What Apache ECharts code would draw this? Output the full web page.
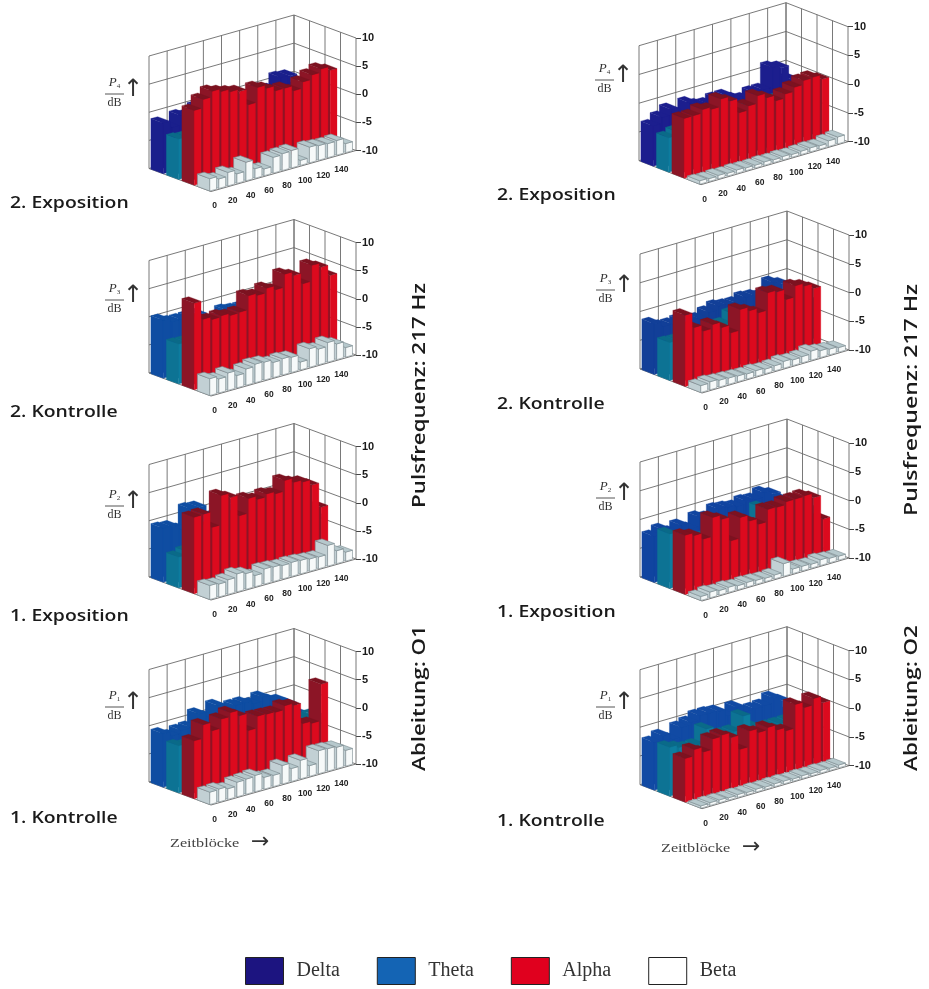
<!DOCTYPE html>
<html><head><meta charset="utf-8">
<style>html,body{margin:0;padding:0;background:#fff}#main{width:929px;height:989px;filter:blur(0.55px)}</style>
<script src="https://cdn.jsdelivr.net/npm/echarts@6/dist/echarts.min.js"></script>
</head><body><div id="main"></div>
<script>
const timeBlocks = [0,10,20,30,40,50,60,70,80,90,100,110,120,130,140,150];
const timeTickLabels = [0,20,40,60,80,100,120,140];
const gridTimes = [0,20,40,60,80,100,120,140,160];
const gridLevels = [-10,-5,0,5,10];
const depthLines = [0,0.25,0.5,0.75,1];
const seriesNames = ['Delta','Theta','Alpha','Beta'];

// O1, 2. Exposition
const deltaO1P4 = [-1,-2.2,-0.6,-1,0,0.5,0.5,0.5,0,-2,-2.5,0,-0.5,1.2,1,-1.5];
const thetaO1P4 = [-2.8,-3,-3,-3,-2.5,-2.5,-2.5,-3,-3,-3,-3,-2.5,-2.5,-2.5,-2.5,-3];
const alphaO1P4 = [3.3,4.8,5.8,5.3,4.8,4.4,1.6,4.2,3.6,2.7,2.7,1.8,2.9,3.7,4.3,3.6];
const betaO1P4  = [-7.8,-8.3,-7.6,-8.3,-6.7,-8.3,-8.8,-7.2,-7,-6.9,-9.1,-7.2,-7.4,-7.5,-7.4,-8.4];
// O1, 2. Kontrolle
const deltaO1P3 = [0.3,-0.4,-0.5,-0.5,-0.5,-2,-2.5,-1.1,-1.4,-1.5,-1,-1,-1.5,-1,-2,-1.5];
const thetaO1P3 = [-2.9,-3,-3,-3,-3,-3,-3,-3,-3,-3,-3,-3,-3,-3,-3,-3];
const alphaO1P3 = [5.4,2.1,1.6,1.8,1.4,1.5,4,3.6,4.4,3.7,6,5.3,3.4,6.2,5.4,3.5];
const betaO1P3  = [-7,-7.5,-6.9,-7.8,-7.1,-6.7,-6.8,-7.3,-7.1,-7.3,-8.6,-6.7,-7.2,-6.5,-7.2,-8.3];
// O1, 1. Exposition
const deltaO1P2 = [-0.4,-0.6,-1.5,1.7,1.5,-3,-1,-1,0,-1.5,-1,-1,-1,-1,-1,-1];
const thetaO1P2 = [-4.5,-4,-4,-4,-4,-4,-4,-4,-4,-4,-4,-4,-4,-4,-4,-4];
const alphaO1P2 = [3.6,3.7,0.9,6.1,5.3,1.6,4.2,3.6,4.1,3.7,5.6,4.8,4.4,3.4,-1,null];
const betaO1P2  = [-7.5,-7.7,-7.4,-6.8,-7.2,-8,-7.3,-7.4,-7.6,-7.5,-7.6,-7.8,-7.9,-6.3,-7.7,-8.4];
// O1, 1. Kontrolle
const deltaO1P1 = [-0.5,-1.3,-0.8,-0.7,1.2,0.2,1.8,0.5,0.9,0.9,0.3,1,0,-0.5,-1.6,-3.6];
const thetaO1P1 = [-1.6,-2,-2,-2,-2,-2,-2,-2,-0.8,-2.5,-3,-3,-3,-3,-3,-3];
const alphaO1P1 = [0.3,2.7,1.2,2.8,3.5,2.5,-0.6,1.5,1.4,1.3,2,1.6,-2.1,-2.5,4,null];
const betaO1P1  = [-7.8,-7.7,-8.1,-7.4,-7.3,-7.1,-7.9,-8,-6.7,-7.7,-6.7,-8.1,-5.9,-6,-6.2,-7.2];
// O2, 2. Exposition
const deltaO2P4 = [-3,-2,-1.1,-2.3,-0.9,-1.7,-2,-1.5,-1.5,-2.5,-3,-2.3,-2.3,1.1,0.6,-1.9];
const thetaO2P4 = [-4,-3.5,-3,-3,-3,-3,-3,-3,-3,-3,-3,-3,-3,-3,-3,-3];
const alphaO2P4 = [0.4,0.4,1,0.6,1.9,1.1,-1.4,-0.7,0.6,-0.2,-1.2,-0.5,0.2,0.9,1,0.2];
const betaO2P4  = [-9.4,-9.5,-9.4,-9.5,-9.4,-9.5,-9.5,-9.4,-9.5,-9.4,-9.5,-9.4,-9.3,-9.4,-9,-8.8];
// O2, 2. Kontrolle
const deltaO2P3 = [-1.2,-2.1,-2.2,-2,-2.4,-2.7,-2,-1.4,-1.7,-1.8,-1.3,-1.5,-1.9,-0.1,-0.8,-3.3];
const thetaO2P3 = [-3.4,-3.5,-3.5,-3.5,-3.5,-3,-3,-1.7,-3,-3,-3,-3,-3,-3,-3,-3];
const alphaO2P3 = [2.4,-0.2,-1.3,-0.6,-1.6,-3,0.6,-0.1,-0.9,2.1,1.8,0,1.9,1.4,0.5,null];
const betaO2P3  = [-8.8,-8.6,-8.8,-8.9,-9,-9.1,-9,-9.2,-9.1,-8.8,-9,-8.9,-8.4,-8.8,-9,-9.2];
// O2, 1. Exposition
const deltaO2P2 = [-2,-1.3,-2.2,-1.5,-2.5,-1,-1.5,-0.5,-0.7,-1,-0.5,-0.7,0,-0.7,-2.1,-3];
const thetaO2P2 = [-0.5,-1.5,-3,-3,-3,-3,-3,-1.8,-3,-3,-0.6,-3,-3,-3,-3,-3];
const alphaO2P2 = [0.3,-0.2,-1.3,2,1.2,-3,0.6,-0.5,-1.5,0.6,0.5,1,1,1.1,0.3,-3.9];
const betaO2P2  = [-9.3,-9,-9.2,-9.1,-9.3,-9.2,-9.3,-9.4,-9.3,-7.8,-9.2,-9.2,-9.3,-9,-9.2,-9.3];
// O2, 1. Kontrolle
const deltaO2P1 = [-1.7,-1,-2.1,-0.5,-0.1,0.6,0.6,0.4,-0.8,0.2,-1,-1,-0.9,0,-1,-3.5];
const thetaO2P1 = [-1.5,-2,-2.5,-2.5,-0.2,-2,-2,-2,0.2,-2,-3,-3,-3,-3,-3,-3];
const alphaO2P1 = [-2.4,-1.3,-2.2,-0.4,-0.2,-1.1,-3.6,-0.9,-1.6,-1.2,-2.1,-2.7,1.4,0.4,1.5,0.3];
const betaO2P1  = [-9.6,-9.5,-9.5,-9.6,-9.5,-9.6,-9.5,-9.6,-9.5,-9.5,-9.6,-9.5,-9.6,-9.5,-9.6,-9.5];

const L = {tx:145,ty:-41,dx:62,dy:23,h:112.5}, R = {tx:147,ty:-43,dx:62,dy:24,h:115};
const panels = [
 {g:L,ox:149,oy:168.5,sub:'4',labelY:94, name:'2. Exposition',nx:10,ny:203,delta:deltaO1P4,theta:thetaO1P4,alpha:alphaO1P4,beta:betaO1P4,dc:'#1a1f8c'},
 {g:L,ox:149,oy:373,  sub:'3',labelY:300,name:'2. Kontrolle', nx:10,ny:412,delta:deltaO1P3,theta:thetaO1P3,alpha:alphaO1P3,beta:betaO1P3,dc:'#0f4da2'},
 {g:L,ox:149,oy:577,  sub:'2',labelY:506,name:'1. Exposition',nx:10,ny:616,delta:deltaO1P2,theta:thetaO1P2,alpha:alphaO1P2,beta:betaO1P2,dc:'#0f4da2'},
 {g:L,ox:149,oy:782,  sub:'1',labelY:707,name:'1. Kontrolle', nx:10,ny:818,delta:deltaO1P1,theta:thetaO1P1,alpha:alphaO1P1,beta:betaO1P1,dc:'#0f4da2'},
 {g:R,ox:639,oy:160.7,sub:'4',labelY:80, name:'2. Exposition',nx:497,ny:195,delta:deltaO2P4,theta:thetaO2P4,alpha:alphaO2P4,beta:betaO2P4,dc:'#1c1e8e'},
 {g:R,ox:640,oy:369,  sub:'3',labelY:290,name:'2. Kontrolle', nx:497,ny:404,delta:deltaO2P3,theta:thetaO2P3,alpha:alphaO2P3,beta:betaO2P3,dc:'#123f98'},
 {g:R,ox:640,oy:577,  sub:'2',labelY:498,name:'1. Exposition',nx:497,ny:612,delta:deltaO2P2,theta:thetaO2P2,alpha:alphaO2P2,beta:betaO2P2,dc:'#1044a0'},
 {g:R,ox:640,oy:784.7,sub:'1',labelY:707,name:'1. Kontrolle', nx:497,ny:821,delta:deltaO2P1,theta:thetaO2P1,alpha:alphaO2P1,beta:betaO2P1,dc:'#114aa4'}
];
const barSpan = 7.5, rowStart = 0.03, rowDepth = 0.2;

function projector(api, params, g){
  const cs = params.coordSys;
  return function(t, v, d){
    const c = api.coord([t, v]);
    return [c[0] + d*g.dx, c[1] + (c[0]-cs.x)/cs.width*g.ty + d*g.dy];
  };
}
function faces(rowIdx, g, col){
  return function(params, api){
    const val = api.value(1);
    if (val == null || isNaN(val)) return null;
    const t = api.value(0), p = projector(api, params, g);
    const d0 = rowIdx*0.25+rowStart, d1 = d0+rowDepth, t1 = t+barSpan, lo = -10;
    const poly = (pts, fill) => ({type:'polygon', shape:{points:pts}, style:{fill, stroke: col.stroke||fill, lineWidth: col.stroke?0.6:0.3}});
    return {type:'group', children:[
      poly([p(t,lo,d0),p(t,val,d0),p(t,val,d1),p(t,lo,d1)], col.side),
      poly([p(t,lo,d1),p(t,val,d1),p(t1,val,d1),p(t1,lo,d1)], col.front),
      poly([p(t,val,d0),p(t1,val,d0),p(t1,val,d1),p(t,val,d1)], col.top)
    ]};
  };
}
function wallRender(g){
  return function(params, api){
    const p = projector(api, params, g), kids = [];
    const line = (a,b) => kids.push({type:'line', shape:{x1:a[0],y1:a[1],x2:b[0],y2:b[1]}, style:{stroke:'#6a6a6a',lineWidth:0.9}});
    gridTimes.forEach(t => line(p(t,-10,0), p(t,10,0)));
    gridLevels.forEach(v => line(p(0,v,0), p(160,v,0)));
    depthLines.forEach(d => line(p(160,-10,d), p(160,10,d)));
    gridLevels.forEach(v => line(p(160,v,0), p(160,v,1)));
    line(p(0,-10,0), p(0,-10,1));
    line(p(0,-10,1), p(160,-10,1));
    return {type:'group', children:kids};
  };
}
function tickRender(g){
  return function(params, api){
    const pt = projector(api, params, g)(api.value(0), -10, 1);
    return {type:'text', x:pt[0]+3.5, y:pt[1]+14.5, style:{text:String(api.value(0)), fill:'#222', font:'bold 8.5px "Liberation Sans"', align:'center', verticalAlign:'middle'}};
  };
}

const grid=[], xAxis=[], yAxis=[], series=[], graphic=[];
const legendColors = {Delta:'#1c1480',Theta:'#1464b4',Alpha:'#e0001e',Beta:'#ffffff'};
panels.forEach(P => {
  const g = P.g, a = grid.length;
  grid.push({left:P.ox, top:P.oy-g.h, width:g.tx, height:g.h, containLabel:false});
  xAxis.push({gridIndex:a, type:'value', min:0, max:160, interval:20, show:false});
  yAxis.push({gridIndex:a, type:'value', min:-10, max:10, interval:5, show:false});
  const rx = P.ox+g.tx+g.dx, ry = P.oy+g.ty+g.dy-g.h;
  grid.push({left:rx, top:ry, width:1, height:g.h});
  xAxis.push({gridIndex:a+1, type:'value', show:false, min:0, max:1});
  yAxis.push({gridIndex:a+1, type:'value', min:-10, max:10, interval:5, position:'right', splitLine:{show:false},
    axisLine:{show:false}, axisTick:{show:true,length:5,lineStyle:{color:'#444',width:1}},
    axisLabel:{show:true, margin:5, color:'#1a1a1a', fontFamily:'Liberation Sans', fontWeight:'bold', fontSize:11}});
  series.push({type:'custom', name:'grid', xAxisIndex:a, yAxisIndex:a, data:[[0,-10]], renderItem:wallRender(g), silent:true, animation:false, legendHoverLink:false});
  const cols = [
    {front:P.dc, side:P.dc, top:P.dc},
    {front:'#0d7d9f', side:'#0d7394', top:'#0a6a88'},
    {front:'#dc0a1e', side:'#8c1526', top:'#7c1220'},
    {front:'#f6f9f9', side:'#c2d0d4', top:'#b6c8cc', stroke:'#7a8a8e'}
  ];
  [P.delta,P.theta,P.alpha,P.beta].forEach((vals,i) => {
    const rows = timeBlocks.map((t,k)=>[t,vals[k]]).reverse();
    series.push({type:'custom', name:seriesNames[i], xAxisIndex:a, yAxisIndex:a, data:rows, renderItem:faces(i,g,cols[i]), silent:true, animation:false,
      itemStyle:{color:legendColors[seriesNames[i]]}, encode:{x:0,y:1}});
  });
  series.push({type:'custom', name:'ticks', xAxisIndex:a, yAxisIndex:a, data:timeTickLabels.map(t=>[t,-10]), renderItem:tickRender(g), silent:true, animation:false});

  graphic.push({type:'text', x:P.nx, y:P.ny, scaleX:1.21, style:{text:P.name, fill:'#1a1a1a', font:'600 16px "Open Sans"', align:'left', verticalAlign:'middle'}});
  const fx = P.ox-44;
  graphic.push({type:'text', x:fx+9.5, y:P.labelY-11, style:{text:'{p|P}{s|'+P.sub+'}', align:'center', verticalAlign:'middle', rich:{p:{font:'italic 13px "Liberation Serif"',fill:'#333'}, s:{font:'7px "Liberation Serif"',fill:'#333',padding:[6,0,0,0]}}}});
  graphic.push({type:'line', shape:{x1:fx,y1:P.labelY,x2:fx+19,y2:P.labelY}, style:{stroke:'#555',lineWidth:1}});
  graphic.push({type:'text', x:fx+9.5, y:P.labelY+9, style:{text:'dB', align:'center', verticalAlign:'middle', font:'12px "Liberation Serif"', fill:'#333'}});
  graphic.push({type:'text', x:fx+28, y:P.labelY-4, style:{text:'↑', align:'center', verticalAlign:'middle', font:'24px "DejaVu Sans"', fill:'#333'}});
});
[['Pulsfrequenz: 217 Hz',420,395.5,1.24],['Ableitung: O1',420,698,1.24],['Pulsfrequenz: 217 Hz',912,400,1.28],['Ableitung: O2',912,698,1.24]].forEach(r=>{
  graphic.push({type:'text', x:r[1], y:r[2], rotation:Math.PI/2, scaleX:r[3], style:{text:r[0], align:'center', verticalAlign:'middle', fill:'#1a1a1a', font:'600 18px "Open Sans"'}});
});
[[170,843],[661,848]].forEach(r=>{
  graphic.push({type:'text', x:r[0], y:r[1], scaleX:1.2, style:{text:'Zeitblöcke', align:'left', verticalAlign:'middle', font:'13.5px "Liberation Serif"', fill:'#444'}});
  graphic.push({type:'text', x:r[0]+81, y:r[1]-1, style:{text:'→', verticalAlign:'middle', font:'22px "DejaVu Sans"', fill:'#333'}});
});

const chart = echarts.init(document.getElementById('main'), null, {renderer:'canvas'});
chart.setOption({
  animation:false, backgroundColor:'#fff', grid, xAxis, yAxis, series, graphic,
  tooltip:{show:false},
  legend:{left:245, top:957, padding:0, itemWidth:38, itemHeight:27, itemGap:37, selectedMode:false,
    textStyle:{fontFamily:'Liberation Serif', fontSize:20, color:'#333', padding:[0,0,0,8]},
    data:seriesNames.map(n=>({name:n, icon:'rect', itemStyle:{color:legendColors[n], borderColor:'#222', borderWidth:1}}))}
});
</script></body></html>
